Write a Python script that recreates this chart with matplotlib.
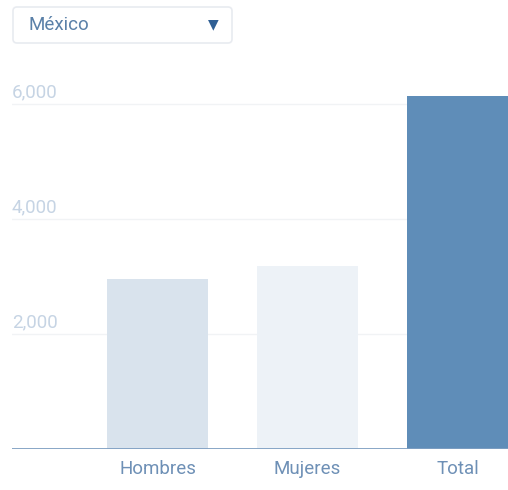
import matplotlib.pyplot as plt
from matplotlib.patches import FancyBboxPatch
import matplotlib.transforms as mtransforms

plt.rcParams['font.family'] = ['Roboto', 'DejaVu Sans']

categories = ["Hombres", "Mujeres", "Total"]
values = [2960, 3180, 6140]
bar_colors = ["#d9e3ed", "#edf2f7", "#5f8db8"]
yticks = [2000, 4000, 6000]
ytick_labels = ["2,000", "4,000", "6,000"]
selected = "México"

fig = plt.figure(figsize=(5.08, 4.90), dpi=100)
ax = fig.add_axes([12 / 508, 41 / 490, 1 - 12 / 508, (449 - 58) / 490])

x = list(range(len(categories)))
ax.bar(x, values, width=0.67, color=bar_colors, zorder=2)
ax.set_xlim(-0.97, 2.337)
ax.set_ylim(0, 6800)

for t in yticks:
    ax.axhline(t, color="#f1f3f5", lw=1, zorder=1)
ax.axhline(0, color="#7f9fc2", lw=1.3, zorder=3)

# y labels sit just above their gridlines
trans = mtransforms.blended_transform_factory(ax.transAxes, ax.transData)
for t, lab in zip(yticks, ytick_labels):
    ax.text(0, t + 40, lab, transform=trans, ha="left", va="bottom",
            fontsize=13.5, color="#c6d4e4")

ax.set_xticks(x)
ax.set_xticklabels(categories, fontsize=13.5, color="#6e90b6")
ax.tick_params(axis="x", length=0, pad=8)
ax.set_yticks([])
for s in ax.spines.values():
    s.set_visible(False)

# dropdown selector
box = FancyBboxPatch((13 / 508, (490 - 43) / 490), 219 / 508, 36 / 490,
                     boxstyle="round,pad=0,rounding_size=0.008",
                     transform=fig.transFigure, facecolor="white",
                     edgecolor="#e8ebf0", lw=1.2)
fig.patches.append(box)
fig.text(28 / 508, (490 - 25) / 490, selected, fontsize=13.5, color="#5a80a8",
         ha="left", va="center")
fig.text(213 / 508, (490 - 24) / 490, "▼", fontsize=10, color="#2f5f94",
         ha="center", va="center", family="DejaVu Sans")

fig.savefig("out.png", dpi=100)
